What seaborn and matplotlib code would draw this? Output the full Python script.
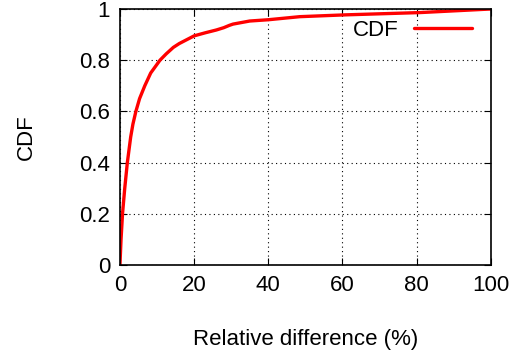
import pandas as pd
import matplotlib.pyplot as plt
import seaborn as sns

# CDF of relative difference
rel_diff = [0, 0.3, 0.7, 1.3, 2.0, 2.9, 3.5, 4.3, 5.3, 6.7, 8.3, 10.8, 12.5, 14.4, 16, 18, 20,
            23, 26, 28, 29.5, 30.5, 35, 40, 48.5, 60.6, 80.9, 100]
cdf = [0, 0.1, 0.2, 0.3, 0.4, 0.5, 0.55, 0.6, 0.65, 0.7, 0.75, 0.8, 0.825, 0.85, 0.865, 0.88, 0.895,
       0.907, 0.918, 0.927, 0.936, 0.941, 0.953, 0.958, 0.970, 0.977, 0.986, 1.0]

df = pd.DataFrame({'Relative difference (%)': rel_diff, 'CDF': cdf})

sns.set_style('ticks')
plt.rcParams['font.family'] = ['Liberation Sans', 'DejaVu Sans']
plt.rcParams['text.color'] = 'black'
plt.rcParams['axes.labelcolor'] = 'black'

fig = plt.figure(figsize=(5.26, 3.54), dpi=100)
ax = fig.add_axes([0.228, 0.2514, 0.705, 0.7232])

sns.lineplot(x='Relative difference (%)', y='CDF', data=df, ax=ax,
             color='#ff0000', linewidth=2.4, label='CDF')

ax.set_xlim(0, 100)
ax.set_ylim(0, 1)
ax.set_xticks([0, 20, 40, 60, 80, 100])
ax.set_yticks([0, 0.2, 0.4, 0.6, 0.8, 1])
ax.set_yticklabels(['0', '0.2', '0.4', '0.6', '0.8', '1'])
ax.grid(True, color='black', linestyle=(0, (1, 3)), linewidth=0.8)
ax.tick_params(direction='in', top=True, right=True, length=5, width=0.8,
               labelsize=16, pad=7, colors='black')
for s in ax.spines.values():
    s.set_color('black')
    s.set_linewidth(1.2)

ax.set_xlabel('Relative difference (%)', fontsize=16)
ax.xaxis.set_label_coords(0.5, -0.25)
ax.set_ylabel('CDF', fontsize=16)
ax.yaxis.set_label_coords(-0.223, 0.5)

leg = ax.legend(loc='upper right', frameon=False, markerfirst=False, fontsize=16,
                handlelength=2.6, handletextpad=0.7, borderaxespad=0.2,
                bbox_to_anchor=(0.985, 1.01))

fig.savefig('out.png', dpi=100)
